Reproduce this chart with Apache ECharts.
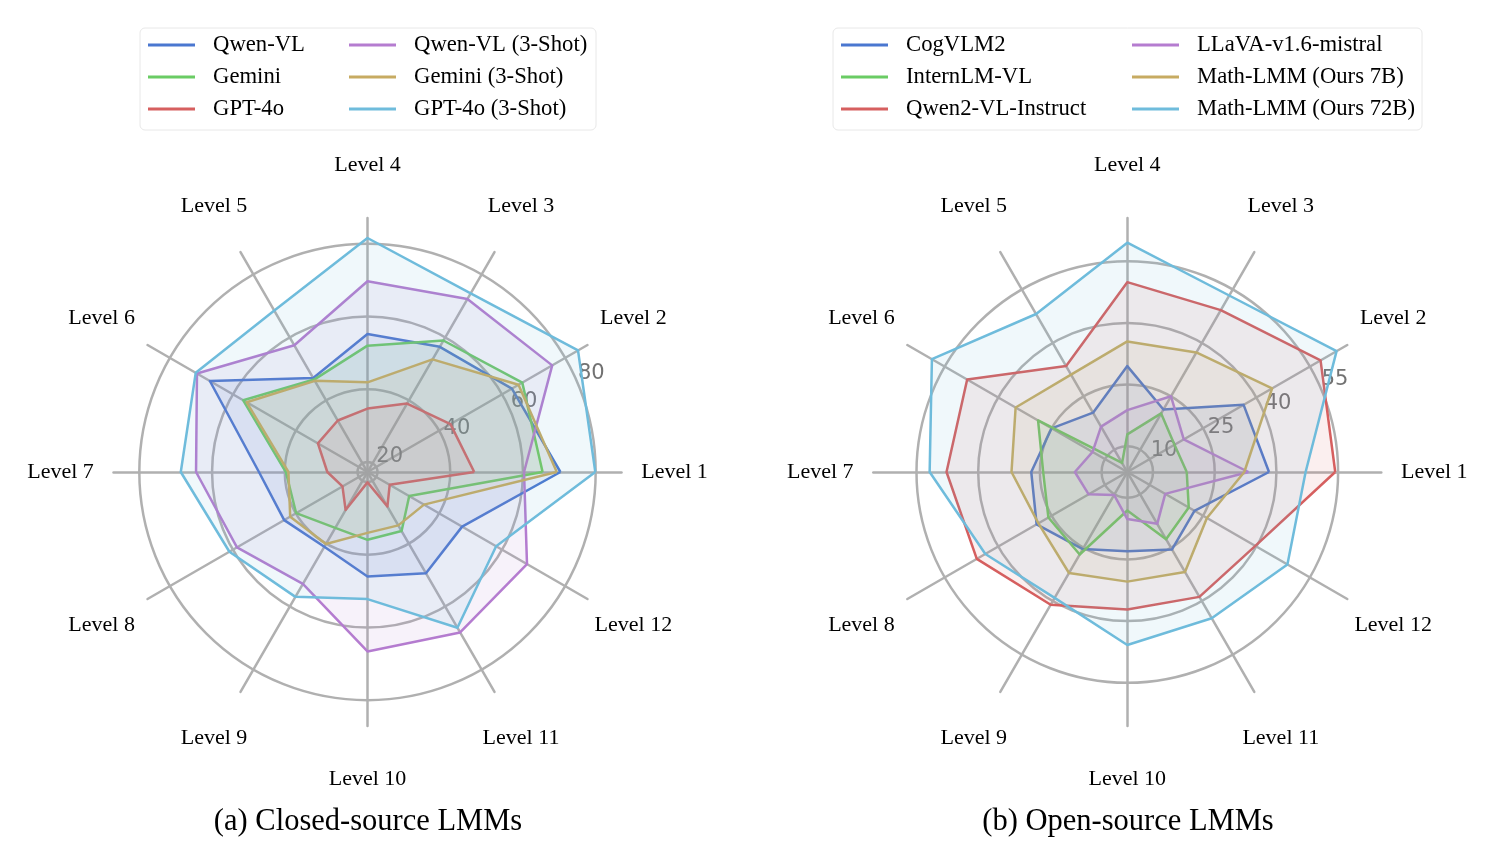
<!DOCTYPE html>
<html><head><meta charset="utf-8">
<script src="https://cdn.jsdelivr.net/npm/echarts@6/dist/echarts.min.js"></script>
<style>html,body{margin:0;padding:0;background:#fff;}#chart{width:1496px;height:863px;}</style>
</head><body><div id="chart"></div>
<script>
// ---------- data ----------
const levels = ['Level 1','Level 2','Level 3','Level 4','Level 5','Level 6','Level 7','Level 8','Level 9','Level 10','Level 11','Level 12'];

// (a) closed-source
const closedNames = ['Qwen-VL','Gemini','GPT-4o','Qwen-VL (3-Shot)','Gemini (3-Shot)','GPT-4o (3-Shot)'];
const qwenVL       = [70.3, 63.1, 57.0, 55.2, 47.1, 67.3, 47.1, 43.7, 41.0, 46.0, 49.4, 47.3];
const gemini       = [65.4, 66.4, 59.0, 52.0, 46.6, 56.7, 39.7, 39.9, 35.0, 35.9, 36.0, 30.5];
const gpt4o        = [46.6, 43.6, 39.0, 34.7, 33.6, 33.0, 28.3, 25.2, 29.3, 20.1, 28.2, 24.3];
const qwenVL3      = [60.3, 75.9, 72.2, 69.7, 57.5, 71.4, 64.4, 58.7, 52.8, 66.6, 68.2, 67.9];
const gemini3      = [69.3, 65.2, 53.0, 41.9, 46.2, 55.6, 39.0, 41.8, 40.1, 34.0, 34.2, 35.2];
const gpt4o3       = [79.9, 84.1, 74.0, 81.6, 68.5, 71.8, 68.6, 61.1, 56.9, 52.2, 66.7, 58.1];
const closedTicks  = [20, 40, 60, 80];
const closedRange  = [17.25, 87.1];

// (b) open-source
const openNames = ['CogVLM2','InternLM-VL','Qwen2-VL-Instruct','LLaVA-v1.6-mistral','Math-LMM (Ours 7B)','Math-LMM (Ours 72B)'];
const cogVLM2      = [38.2, 36.4, 21.3, 29.5, 20.4, 25.0, 27.1, 29.2, 25.4, 23.0, 25.5, 22.6];
const internLM     = [18.2, 17.0, 20.2, 12.9, 6.3, 28.8, 24.2, 25.9, 26.9, 13.1, 22.6, 21.0];
const qwen2VL      = [54.3, 58.0, 49.2, 49.9, 33.5, 48.7, 47.7, 46.0, 41.0, 37.2, 38.8, 39.7];
const llava        = [33.2, 19.6, 25.0, 18.8, 16.5, 13.5, 16.5, 14.6, 10.2, 15.2, 18.3, 14.4];
const mathLMM7     = [32.2, 44.4, 37.3, 35.5, 31.1, 35.1, 31.9, 28.7, 32.1, 30.4, 31.8, 26.1];
const mathLMM72    = [47.1, 62.5, 53.3, 59.5, 48.1, 58.6, 51.8, 43.6, 39.1, 45.8, 44.8, 48.7];
const openTicks    = [10, 25, 40, 55];
const openRange    = [3.75, 65.5];

const colors = ['#4a77d0','#6acc64','#d65f5f','#b57cd0','#c7ab62','#6fbcdc'];

// ---------- build ----------
const closedData = [qwenVL, gemini, gpt4o, qwenVL3, gemini3, gpt4o3];
const openData = [cogVLM2, internLM, qwen2VL, llava, mathLMM7, mathLMM72];
const centers = [[367.5, 472], [1127.3, 472]];
const R = 254;
const serif = 'Liberation Serif';
const gridColor = '#b0b0b0';

function radarComp(range, center) {
  return {
    center: center, radius: R, startAngle: 0, shape: 'circle', splitNumber: 1,
    indicator: levels.map(n => ({ name: n, min: range[0], max: range[1] })),
    nameGap: 53,
    axisName: { color: '#000', fontFamily: serif, fontSize: 22, align: 'center', verticalAlign: 'middle' },
    axisLine: { lineStyle: { color: gridColor, width: 2.5 } },
    splitLine: { show: false },
    splitArea: { show: false },
    axisTick: { show: false },
    axisLabel: { show: false }
  };
}
function polarAxes(idx, range, ticks) {
  return {
    angle: { polarIndex: idx, type: 'value', min: 0, max: 360, startAngle: 22.5, show: false },
    radius: {
      polarIndex: idx, type: 'value', min: range[0], max: range[1], z: 1,
      axisLine: { show: false },
      axisTick: { show: false, customValues: ticks },
      axisLabel: { show: true, customValues: ticks, margin: 1, align: 'left', verticalAlign: 'bottom',
                   color: '#727272', fontFamily: 'DejaVu Sans', fontSize: 21 },
      splitLine: { show: true, lineStyle: { color: gridColor, width: 2.5 } }
    }
  };
}
function seriesFor(names, data, radarIndex) {
  return names.map((n, i) => ({
    type: 'radar', radarIndex: radarIndex, name: n, symbol: 'none', z: 3,
    lineStyle: { color: colors[i], width: 2.5 },
    itemStyle: { color: colors[i] },
    areaStyle: { color: colors[i], opacity: 0.1 },
    data: [{ name: n, value: data[i] }]
  }));
}
function legendFor(names, left, w1, w2, padR) {
  const order = [0, 3, 1, 4, 2, 5];
  return {
    left: left, top: 28, orient: 'horizontal',
    width: 47 + 5 + 13 + w1 + 8 + 47 + 5 + 13 + w2 + 2,
    padding: [5, padR, 9, 8],
    itemGap: 8, itemWidth: 47, itemHeight: 3, icon: 'rect',
    borderColor: '#e8e8e8', borderWidth: 1, borderRadius: 5, backgroundColor: '#fff',
    selectedMode: false,
    data: order.map((k, j) => ({
      name: names[k],
      textStyle: { width: (j % 2 === 0) ? w1 : w2 }
    })),
    textStyle: { fontFamily: serif, fontSize: 22.7, color: '#000', lineHeight: 24, padding: [0, 0, 0, 13] }
  };
}

const pa = polarAxes(0, closedRange, closedTicks);
const pb = polarAxes(1, openRange, openTicks);

const option = {
  animation: false,
  backgroundColor: '#fff',
  title: [
    { text: '(a) Closed-source LMMs', left: 363, top: 801, textAlign: 'center',
      textStyle: { fontFamily: serif, fontSize: 30.5, fontWeight: 'normal', color: '#000' } },
    { text: '(b) Open-source LMMs', left: 1123, top: 801, textAlign: 'center',
      textStyle: { fontFamily: serif, fontSize: 30.5, fontWeight: 'normal', color: '#000' } }
  ],
  legend: [
    legendFor(closedNames, 140, 128, 180, 2),
    legendFor(openNames, 833, 218, 222, 3)
  ],
  polar: [ { center: centers[0], radius: R }, { center: centers[1], radius: R } ],
  angleAxis: [pa.angle, pb.angle],
  radiusAxis: [pa.radius, pb.radius],
  radar: [ radarComp(closedRange, centers[0]), radarComp(openRange, centers[1]) ],
  series: [].concat(seriesFor(closedNames, closedData, 0), seriesFor(openNames, openData, 1))
};

const chart = echarts.init(document.getElementById('chart'), null, { renderer: 'canvas' });
chart.setOption(option);
</script></body></html>
